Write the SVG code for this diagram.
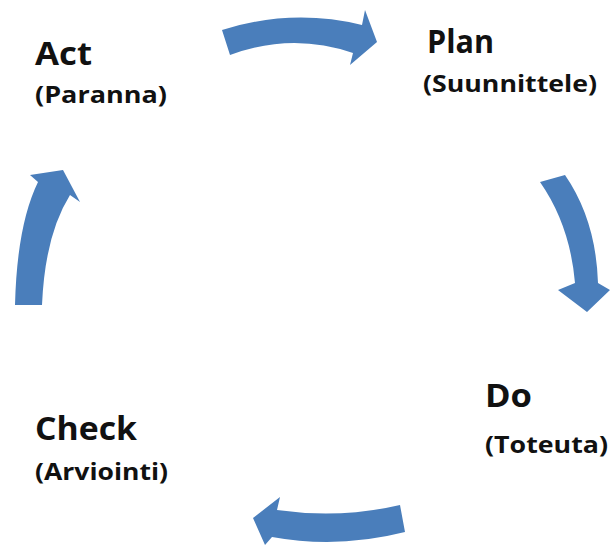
<svg xmlns="http://www.w3.org/2000/svg" width="611" height="549" viewBox="0 0 611 549">
<style>
.arrow{fill:#4a7ebb}
.big{font-family:"Open Sans","Liberation Sans",sans-serif;font-weight:700;font-size:33px;fill:#111}
.small{font-family:"Open Sans","Liberation Sans",sans-serif;font-weight:700;font-size:23px;fill:#111}
</style>
<rect width="611" height="549" fill="#fff"/>
<g id="connectors">
<path class="arrow" d="M222,30 Q292,8 362,25 L365,10 L377,42 L350,65 L353,53 Q292,32 230,55 Z"/>
<path class="arrow" d="M540,182 L565,175 Q596,220 598,283 L610,290 L587,312 L558,290 L575,283 Q570,225 540,182 Z"/>
<path class="arrow" d="M400,505 L405,532 Q338,549 272,537 L265,545 L253,518 L280,497 L277,510 Q340,519 400,505 Z"/>
<path class="arrow" d="M15,305 L42,305 Q45,235 70,195 L80,202 L63,170 L30,175 L38,182 Q17,225 15,305 Z"/>
</g>
<g id="act">
<text class="big" x="35" y="65" textLength="57" lengthAdjust="spacingAndGlyphs">Act</text>
<text class="small" x="35" y="103" textLength="132" lengthAdjust="spacingAndGlyphs">(Paranna)</text>
</g>
<g id="plan">
<text class="big" x="427" y="53" textLength="67" lengthAdjust="spacingAndGlyphs">Plan</text>
<text class="small" x="423" y="92" textLength="174" lengthAdjust="spacingAndGlyphs">(Suunnittele)</text>
</g>
<g id="do">
<text class="big" x="485" y="407" textLength="47" lengthAdjust="spacingAndGlyphs">Do</text>
<text class="small" x="485" y="453" textLength="123" lengthAdjust="spacingAndGlyphs">(Toteuta)</text>
</g>
<g id="check">
<text class="big" x="35" y="440" textLength="102" lengthAdjust="spacingAndGlyphs">Check</text>
<text class="small" x="35" y="480" textLength="133" lengthAdjust="spacingAndGlyphs">(Arviointi)</text>
</g>
</svg>
